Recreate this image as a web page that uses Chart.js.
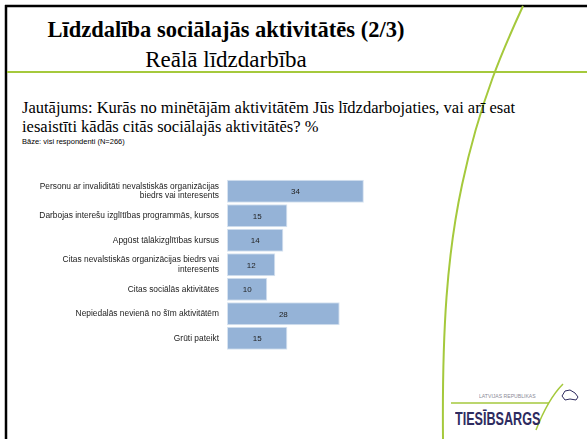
<!DOCTYPE html>
<html>
<head>
<meta charset="utf-8">
<script src="https://cdn.jsdelivr.net/npm/chart.js@4"></script>
<style>
  html, body { margin: 0; padding: 0; background: #fff; }
  #slide { position: relative; width: 587px; height: 439px; overflow: hidden; background: #fff; }
  #deco { position: absolute; left: 0; top: 0; }
  .txt { position: absolute; white-space: nowrap; color: #000; }
  #title { left: 0; width: 452px; top: 17px; text-align: center; font: bold 22.5px "Liberation Serif", serif; }
  #subtitle { left: 0; width: 452px; top: 47px; text-align: center; font: 23px "Liberation Serif", serif; }
  #question { left: 22px; top: 98px; font: 16.5px/19px "Liberation Serif", serif; }
  #base { left: 22px; top: 137px; font: 7.5px "Liberation Sans", sans-serif; }
  #chartBox { position: absolute; left: 0; top: 170px; width: 587px; height: 190px; }
  #logoSmall { left: 479px; top: 393px; font: 6px "Liberation Sans", sans-serif; color: #8a8a96; transform: scaleX(0.85); transform-origin: left top; }
  #logoBig { left: 455px; top: 409px; font: bold 18px "Liberation Sans", sans-serif; color: #2e2b5f; transform: scaleX(0.7); transform-origin: left top; }
</style>
</head>
<body>
<div id="slide">
  <svg id="deco" width="587" height="439">
    <line x1="5" y1="6" x2="587" y2="6" stroke="#000" stroke-width="2.5"/>
    <line x1="6" y1="5" x2="6" y2="439" stroke="#000" stroke-width="2.5"/>
    <line x1="7" y1="72" x2="587" y2="72" stroke="#a5c93c" stroke-width="2"/>
    <path d="M523,6 C505,45 480,100 462,185 C447,255 442,330 443,439" fill="none" stroke="#a5c93c" stroke-width="2"/>
    <line x1="451" y1="403" x2="549" y2="403" stroke="#a5c93c" stroke-width="1.5"/>
    <path d="M536,430 C543,412 551,396 563,384" fill="none" stroke="#a5c93c" stroke-width="1.5"/>
    <path d="M562,396 L565,391 L570,390 L575,393 L578,397 L576,400 L570,399 L565,400 Z" fill="none" stroke="#2e2b5f" stroke-width="1"/>
  </svg>
  <div class="txt" id="title">Līdzdalība sociālajās aktivitātēs (2/3)</div>
  <div class="txt" id="subtitle">Reālā līdzdarbība</div>
  <div class="txt" id="question">Jautājums: Kurās no minētājām aktivitātēm Jūs līdzdarbojaties, vai arī esat<br>iesaistīti kādās citās sociālajās aktivitātēs? %</div>
  <div class="txt" id="base">Bāze: visi respondenti (N=266)</div>
  <div id="chartBox"><canvas id="grafico" width="587" height="190"></canvas></div>
  <div class="txt" id="logoSmall">LATVIJAS REPUBLIKAS</div>
  <div class="txt" id="logoBig">TIESĪBSARGS</div>
</div>
<script>
const kategorijas = [
  ['Personu ar invaliditāti nevalstiskās organizācijas', 'biedrs vai interesents'],
  'Darbojas interešu izglītības programmās, kursos',
  'Apgūst tālākizglītības kursus',
  ['Citas nevalstiskās organizācijas biedrs vai', 'interesents'],
  'Citas sociālās aktivitātes',
  'Nepiedalās nevienā no šīm aktivitātēm',
  'Grūti pateikt'
];
const vertibas = [34, 15, 14, 12, 10, 28, 15];

const vertibuTeksts = {
  id: 'vertibuTeksts',
  afterDatasetsDraw(chart) {
    const ctx = chart.ctx;
    const meta = chart.getDatasetMeta(0);
    ctx.save();
    ctx.font = '8px "Liberation Sans", sans-serif';
    ctx.fillStyle = '#222';
    ctx.textAlign = 'center';
    ctx.textBaseline = 'middle';
    meta.data.forEach((bar, i) => {
      ctx.fillText(vertibas[i], (bar.x + bar.base) / 2, bar.y + 1);
    });
    ctx.restore();
  }
};

new Chart(document.getElementById('grafico'), {
  type: 'bar',
  data: {
    labels: kategorijas,
    datasets: [{
      data: vertibas,
      backgroundColor: '#95b3d7',
      borderColor: '#d6e2f0',
      borderWidth: 1,
      borderSkipped: false,
      barPercentage: 1,
      categoryPercentage: 0.94
    }]
  },
  options: {
    indexAxis: 'y',
    responsive: false,
    maintainAspectRatio: false,
    animation: false,
    layout: { padding: { left: 0, top: 9, bottom: 9.5, right: 199 } },
    plugins: { legend: { display: false }, tooltip: { enabled: false } },
    scales: {
      x: { display: false, min: 0, max: 40 },
      y: {
        grid: { display: false, drawTicks: false },
        border: { display: false },
        ticks: {
          color: '#222',
          padding: 8,
          autoSkip: false,
          font: { family: '"Liberation Sans", sans-serif', size: 8.4, lineHeight: 1.1 }
        },
        afterFit(scale) {
          scale.width = 227;
          scale.paddingTop = 0;
          scale.paddingBottom = 0;
        }
      }
    }
  },
  plugins: [vertibuTeksts]
});
</script>
</body>
</html>
